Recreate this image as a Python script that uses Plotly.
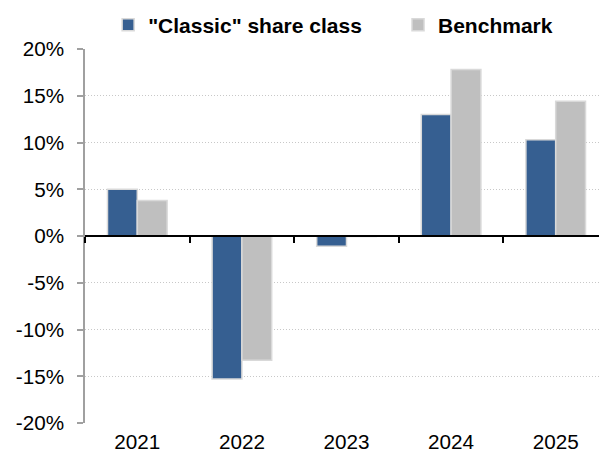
import plotly.graph_objects as go

years = ["2021", "2022", "2023", "2024", "2025"]
classic = [5.0, -15.3, -1.1, 13.0, 10.3]
benchmark = [3.8, -13.3, -0.05, 17.8, 14.4]
series_names = ['"Classic" share class', "Benchmark"]
y_ticks = [-20, -15, -10, -5, 0, 5, 10, 15, 20]
y_labels = [f"{v}%" for v in y_ticks]

fig = go.Figure()
fig.add_trace(go.Bar(x=years, y=classic, name=series_names[0], legend="legend",
                     marker=dict(color="#365F91", line=dict(color="#D9D9D9", width=1.5))))
fig.add_trace(go.Bar(x=years, y=benchmark, name=series_names[1], legend="legend2",
                     marker=dict(color="#BFBFBF", line=dict(color="#D9D9D9", width=1.5))))
# invisible trace for the zero-line category axis
fig.add_trace(go.Scatter(x=years, y=[0]*len(years), xaxis="x2", mode="none",
                         showlegend=False, hoverinfo="skip"))

xr = [-0.5, 4.414]
FS = 20.7
leg_common = dict(orientation="h", xanchor="left", y=1.064, yanchor="middle",
                  font=dict(size=21, color="#000000", weight="bold"),
                  bgcolor="rgba(0,0,0,0)", itemclick=False)
fig.update_layout(
    width=599, height=454,
    margin=dict(l=85, r=0, t=49, b=31, autoexpand=False),
    paper_bgcolor="white", plot_bgcolor="white",
    barmode="group", bargap=0.43, bargroupgap=0,
    font=dict(family="Arial, Liberation Sans, sans-serif", size=FS, color="#000000"),
    showlegend=True,
    legend=dict(x=0.045, **leg_common),
    legend2=dict(x=0.609, **leg_common),
    xaxis=dict(type="category", range=xr, showline=False, ticks="", showgrid=False,
               zeroline=False, ticklabelstandoff=4, tickfont=dict(size=FS, color="#000000")),
    xaxis2=dict(type="category", range=xr, overlaying="x", anchor="free", position=0.5,
                side="bottom", showline=True, linecolor="#000000", linewidth=1.5,
                ticks="outside", ticklen=6, tickcolor="#000000", tickwidth=1.5,
                tickmode="array", tickvals=[-0.5, 0.5, 1.5, 2.5, 3.5],
                showticklabels=False, showgrid=False, zeroline=False),
    yaxis=dict(range=[-20, 20], tickmode="array", tickvals=y_ticks, ticktext=y_labels,
               showgrid=True, gridcolor="#C8C8C8", griddash="1px,2px", gridwidth=1,
               zeroline=False, showline=True, linecolor="#A0A0A0", linewidth=1.5,
               ticks="outside", ticklen=6, tickcolor="#A0A0A0", tickwidth=1.5,
               ticklabelstandoff=9, tickfont=dict(size=FS, color="#000000")),
)
fig.write_html("out.html", config={"displayModeBar": False},
               post_script="document.body.style.margin='0';")
